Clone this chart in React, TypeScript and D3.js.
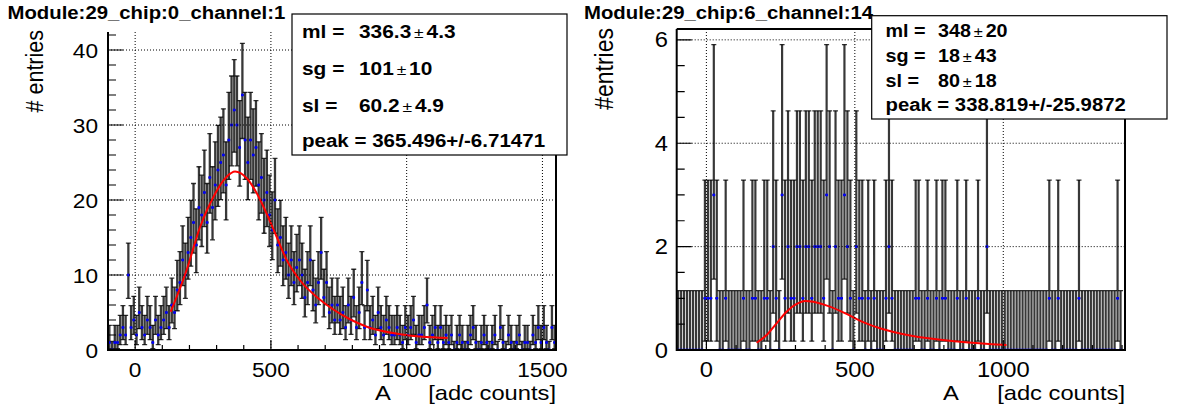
import React from 'react';
import * as d3 from 'd3';

const FONT = "'Liberation Sans', Arial, Helvetica, sans-serif";

// ---------------- data ----------------
const leftBinStart = -100;
const leftBinWidth = 10;
const leftCounts = [
  1, 0, 1, 1, 2,
  3, 2, 10, 3, 4,
  2, 5, 3, 2, 4,
  3, 1, 4, 2, 3,
  4, 5, 3, 6, 5,
  8, 9, 12, 10, 13,
  15, 17, 14, 19, 18,
  21, 17, 23, 19, 22,
  24, 25, 26, 22, 28,
  30, 32, 30, 27, 34,
  28, 25, 28, 26, 27,
  22, 23, 20, 21, 18,
  16, 20, 14, 15, 12,
  13, 10, 12, 9, 11,
  12, 10, 7, 9, 12,
  8, 6, 9, 13, 7,
  9, 5, 6, 4, 6,
  4, 5, 3, 6, 4,
  7, 3, 5, 9, 3,
  8, 3, 4, 2, 5,
  3, 2, 4, 3, 2,
  2, 3, 2, 1, 3,
  2, 3, 4, 1, 2,
  2, 3, 6, 1, 2,
  3, 1, 3, 1, 2,
  1, 2, 0, 1, 2,
  1, 0, 1, 2, 3,
  1, 0, 1, 2, 1,
  0, 1, 2, 0, 3,
  1, 0, 2, 1, 0,
  1, 2, 0, 1, 1,
  0, 2, 1, 3, 1,
  3, 1, 0, 3, 1,
];

const rightBinStart = -100;
const rightBinWidth = 10;
const rightCounts = [
  0, 0, 0, 0, 0, 0, 0, 0, 0, 1,
  1, 1, 3, 1, 0, 0, 1, 0, 0, 0,
  0, 0, 1, 0, 0, 1, 1, 0, 0, 1,
  1, 0, 2, 1, 0, 3, 1, 2, 1, 1,
  2, 2, 1, 2, 2, 1, 2, 2, 2, 1,
  3, 2, 0, 2, 1, 1, 3, 2, 1, 0,
  2, 1, 1, 0, 1, 0, 1, 0, 0, 0,
  1, 2, 1, 0, 0, 0, 0, 0, 0, 0,
  1, 1, 0, 0, 1, 0, 0, 1, 0, 1,
  1, 0, 0, 0, 1, 0, 0, 1, 0, 0,
  0, 1, 0, 0, 2, 0, 0, 0, 0, 0,
  0, 0, 0, 0, 0, 0, 0, 0, 0, 0,
  0, 0, 0, 0, 0, 1, 0, 0, 1, 0,
  0, 0, 0, 0, 0, 1, 0, 0, 0, 0,
  0, 0, 0, 0, 0, 0, 0, 0, 1, 0,
];

// fit curves
const leftFitAdc = [131, 190, 239, 288, 337, 368, 411, 448, 484, 521, 558, 607, 681, 730, 791, 853, 975, 1151];
const leftFitVal = [5.1, 10.7, 16.4, 20.4, 23.1, 23.8, 22.9, 20.9, 18.2, 15.1, 12.0, 9.3, 6.7, 5.4, 4.1, 3.1, 2.1, 1.6];
const rightFitAdc = [169, 203, 237, 270, 304, 332, 360, 416, 472, 528, 590, 686, 854, 1011];
const rightFitVal = [0.14, 0.29, 0.52, 0.74, 0.89, 0.95, 0.935, 0.84, 0.7, 0.54, 0.41, 0.28, 0.16, 0.097];

const leftXTicks = [0, 500, 1000, 1500];
const leftYTicks = [0, 10, 20, 30, 40];
const rightXTicks = [0, 500, 1000];
const rightYTicks = [0, 2, 4, 6];

const leftTitle = 'Module:29_chip:0_channel:1';
const rightTitle = 'Module:29_chip:6_channel:14';

const leftStatNames = ['ml =', 'sg =', 'sl ='];
const leftStatValues = ['336.3', '101', '60.2'];
const leftStatErrors = ['4.3', '10', '4.9'];
const leftPeak = 'peak = 365.496+/-6.71471';

const rightStatNames = ['ml =', 'sg =', 'sl ='];
const rightStatValues = ['348', '18', '80'];
const rightStatErrors = ['20', '43', '18'];
const rightPeak = 'peak = 338.819+/-25.9872';

// ---------------- helpers ----------------
function poissonInterval(n: number): [number, number] {
  if (n <= 0) return [0, 1.1479];
  const lo = n * Math.pow(1 - 1 / (9 * n) - 1 / (3 * Math.sqrt(n)), 3);
  const m = n + 1;
  const hi = m * Math.pow(1 - 1 / (9 * m) + 1 / (3 * Math.sqrt(m)), 3);
  return [lo, hi];
}

function T(props: any) {
  const { x, y, anchor = 'start', size, bold = false, sx = 1.13, children } = props;
  return (
    <text
      transform={`translate(${x},${y}) scale(${sx},1)`}
      textAnchor={anchor}
      fontSize={size}
      fontWeight={bold ? 'bold' : 'normal'}
      fontFamily={FONT}
      fill="#000"
      style={{ whiteSpace: 'pre' }}
    >
      {children}
    </text>
  );
}

function Panel(props: any) {
  const { cfg, counts, binStart, binWidth, fitAdc, fitVal, xTicks, yTicks, title,
    statNames, statValues, statErrors, peak, id } = props;
  const x = d3.scaleLinear().domain(cfg.xDomain).range([cfg.left, cfg.right]);
  const y = d3.scaleLinear().domain(cfg.yDomain).range([cfg.bottom, cfg.top]);

  let errPath = '';
  let capPath = '';
  let binPath = '';
  const markers: any[] = [];
  counts.forEach((n: number, i: number) => {
    const lo = binStart + i * binWidth;
    const hi = lo + binWidth;
    const c = lo + binWidth / 2;
    const [el, eh] = poissonInterval(n);
    const xc = x(c);
    const yv = y(n);
    const yl = y(el);
    const yh = y(eh);
    errPath += `M${xc},${yl}V${yh}`;
    capPath += `M${xc - 2.5},${yh}H${xc + 2.5}`;
    if (el > 0) capPath += `M${xc - 2.5},${yl}H${xc + 2.5}`;
    binPath += `M${x(lo)},${yv}H${x(hi)}`;
    markers.push(<rect key={i} x={xc - 1.3} y={yv - 1.3} width={2.6} height={2.6} fill="#0000ff" />);
  });

  const fitLine = d3.line<number>()
    .x((_, i) => x(fitAdc[i]))
    .y((_, i) => y(fitVal[i]))
    .curve(d3.curveMonotoneX);
  const fitD = fitLine(fitAdc) || '';

  const xMinor = d3.range(Math.ceil(cfg.xDomain[0] / cfg.xMinor) * cfg.xMinor, cfg.xDomain[1] + 0.001, cfg.xMinor);
  const yMinor = d3.range(0, cfg.yDomain[1] + 0.0001, cfg.yMinor);

  let tickPath = '';
  xMinor.forEach((v: number) => {
    const major = xTicks.indexOf(v) >= 0;
    tickPath += `M${x(v)},${cfg.bottom}V${cfg.bottom - (major ? 10 : 5)}`;
  });
  yMinor.forEach((v: number) => {
    const major = yTicks.some((t: number) => Math.abs(t - v) < 1e-6);
    tickPath += `M${cfg.left},${y(v)}H${cfg.left + (major ? 15 : 8)}`;
  });

  let gridPath = '';
  xTicks.forEach((v: number) => { gridPath += `M${x(v)},${cfg.top}V${cfg.bottom}`; });
  yTicks.filter((v: number) => v > 0).forEach((v: number) => { gridPath += `M${cfg.left},${y(v)}H${cfg.right}`; });

  const b = cfg.box;
  return (
    <g>
      <defs>
        <clipPath id={`clip-${id}`}>
          <rect x={cfg.left} y={cfg.top} width={cfg.right - cfg.left} height={cfg.bottom - cfg.top} />
        </clipPath>
      </defs>
      <g clipPath={`url(#clip-${id})`}>
        <path d={errPath} stroke="#000" strokeWidth={cfg.barWidth} strokeOpacity={0.78} fill="none" />
        <path d={capPath} stroke="#000" strokeWidth={1.3} strokeOpacity={0.8} fill="none" />
        <path d={binPath} stroke="#000" strokeWidth={1.6} strokeOpacity={0.8} fill="none" />
        {markers}
        <path d={fitD} stroke="#ff0000" strokeWidth={2} fill="none" />
        <path d={gridPath} stroke="#000" strokeWidth={1} strokeDasharray="1 2" fill="none" />
      </g>
      <path d={tickPath} stroke="#000" strokeWidth={1.2} fill="none" />
      <path d={`M${cfg.left},${cfg.top}V${cfg.bottom}H${cfg.right}V${cfg.top}` + (cfg.drawTop ? `H${cfg.left}` : '')}
        stroke="#000" strokeWidth={2} fill="none" />
      {yTicks.map((v: number) => (
        <T key={`yl${v}`} x={cfg.yTickLabelX} y={y(v) + 7.5} anchor="end" size={cfg.tickSize} sx={1.08}>{String(v)}</T>
      ))}
      {xTicks.map((v: number) => (
        <T key={`xl${v}`} x={x(v)} y={377} anchor="middle" size={cfg.tickSize} sx={1.08}>{String(v)}</T>
      ))}
      <T x={cfg.xTitleAX} y={400} size={21}>A</T>
      <T x={cfg.right} y={400} anchor="end" size={21}>[adc counts]</T>
      <text
        transform={`translate(${cfg.yLabelX},${cfg.yLabelY}) scale(1.13,1) rotate(-90)`}
        textAnchor="end" fontSize={cfg.yLabelSize} fontFamily={FONT} fill="#000"
        style={{ whiteSpace: 'pre' }}
      >{cfg.yLabel}</text>
      <T x={cfg.titleX} y={19.3} size={18} bold>{title}</T>
      <rect x={b.x} y={b.y} width={b.w} height={b.h} fill="#fff" stroke="#000" strokeWidth={1.2} />
      {statNames.map((nm: string, i: number) => (
        <text key={`st${i}`}
          transform={`translate(${cfg.statsX},${cfg.lineYs[i]}) scale(1.13,1)`}
          fontSize={cfg.statSize} fontWeight="bold" fontFamily={FONT} fill="#000"
          style={{ whiteSpace: 'pre' }}>
          <tspan x={0}>{nm}</tspan>
          <tspan x={(cfg.valueX - cfg.statsX) / 1.13}>{statValues[i]}</tspan>
          <tspan dx={2.5} fontWeight="normal" fontSize={cfg.statSize - 3}>±</tspan>
          <tspan dx={2.5}>{statErrors[i]}</tspan>
        </text>
      ))}
      <T x={cfg.statsX} y={cfg.lineYs[3]} size={cfg.statSize} bold sx={cfg.peakSx}>{peak}</T>
    </g>
  );
}

const leftCfg = {
  left: 108, right: 556, top: 32, bottom: 350,
  xDomain: [-100, 1550], yDomain: [0, 42.4], xMinor: 100, yMinor: 2,
  drawTop: false, barWidth: 2.3,
  yTickLabelX: 98, tickSize: 21,
  xTitleAX: 375,
  yLabel: '# entries', yLabelX: 43.3, yLabelY: 30, yLabelSize: 21.5,
  titleX: 7.5,
  box: { x: 292, y: 14, w: 275, h: 141 },
  statsX: 302, valueX: 359, statSize: 18.5,
  lineYs: [38.3, 75, 111.7, 147], peakSx: 1.11,
};

const rightCfg = {
  left: 676.7, right: 1125, top: 29, bottom: 350,
  xDomain: [-100, 1410], yDomain: [0, 6.21], xMinor: 100, yMinor: 0.5,
  drawTop: true, barWidth: 2.2,
  yTickLabelX: 668, tickSize: 22,
  xTitleAX: 943,
  yLabel: '#entries', yLabelX: 613.3, yLabelY: 28, yLabelSize: 23,
  titleX: 584,
  box: { x: 871.7, y: 15.7, w: 295.3, h: 103.3 },
  statsX: 885.5, valueX: 938, statSize: 17.5,
  lineYs: [37.3, 61.7, 87.3, 110.7], peakSx: 1.16,
};

export default function App() {
  return (
    <svg width={1177} height={412} style={{ position: 'absolute', left: 0, top: 0, background: '#fff' }}>
      <rect x={0} y={0} width={1177} height={412} fill="#fff" />
      <Panel id="l" cfg={leftCfg} counts={leftCounts} binStart={leftBinStart} binWidth={leftBinWidth}
        fitAdc={leftFitAdc} fitVal={leftFitVal} xTicks={leftXTicks} yTicks={leftYTicks} title={leftTitle}
        statNames={leftStatNames} statValues={leftStatValues} statErrors={leftStatErrors} peak={leftPeak} />
      <Panel id="r" cfg={rightCfg} counts={rightCounts} binStart={rightBinStart} binWidth={rightBinWidth}
        fitAdc={rightFitAdc} fitVal={rightFitVal} xTicks={rightXTicks} yTicks={rightYTicks} title={rightTitle}
        statNames={rightStatNames} statValues={rightStatValues} statErrors={rightStatErrors} peak={rightPeak} />
    </svg>
  );
}
